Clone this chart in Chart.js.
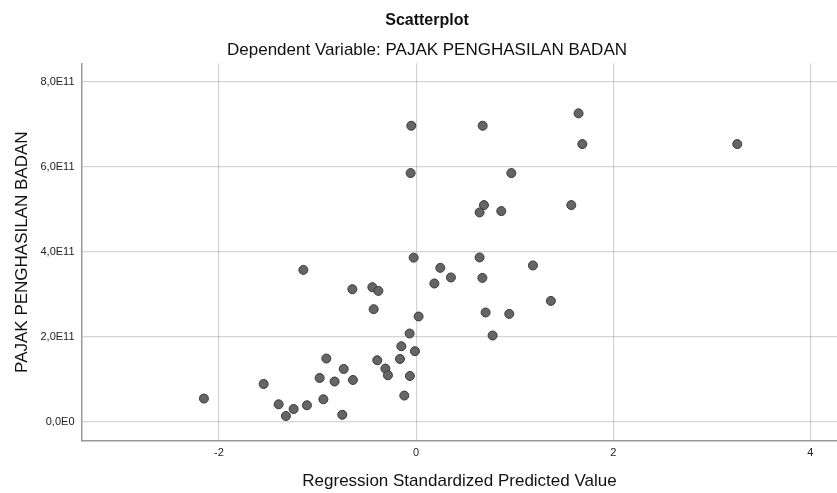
<!DOCTYPE html>
<html>
<head>
<meta charset="utf-8">
<script src="https://cdn.jsdelivr.net/npm/chart.js@4"></script>
<style>
  html, body { margin: 0; padding: 0; background: #ffffff; }
  #wrap { width: 837px; height: 493px; }
</style>
</head>
<body>
<div id="wrap"><canvas id="c" width="837" height="493"></canvas></div>
<script>
const predictedValues = [
  -0.049, 0.675, 1.648, 1.686, 3.258, -0.056, 0.966, 0.688, 0.644, 0.864,
  1.574, -0.025, 0.644, -1.144, 0.245, 1.185, -0.647, -0.444, -0.383, 0.185,
  0.353, 0.672, 1.367, -0.431, 0.025, 0.705, 0.945, -0.066, 0.776, -0.150,
  -0.012, -0.394, -0.164, -0.735, -0.312, -0.286, -0.641, -0.063, -0.120, -0.749,
  -0.911, -0.979, -0.827, -1.547, -2.153, -1.395, -1.243, -1.108, -0.941, -1.321
];
const pajakValues = [
  6.965e11, 6.965e11, 7.256e11, 6.534e11, 6.534e11, 5.852e11, 5.852e11, 5.099e11, 4.927e11, 4.958e11,
  5.099e11, 3.864e11, 3.868e11, 3.576e11, 3.624e11, 3.680e11, 3.122e11, 3.169e11, 3.082e11, 3.256e11,
  3.398e11, 3.388e11, 2.847e11, 2.652e11, 2.480e11, 2.574e11, 2.541e11, 2.080e11, 2.033e11, 1.781e11,
  1.664e11, 1.452e11, 1.482e11, 1.247e11, 1.256e11, 1.099e11, 0.988e11, 1.082e11, 0.621e11, 0.169e11,
  1.492e11, 1.035e11, 0.951e11, 0.894e11, 0.551e11, 0.416e11, 0.306e11, 0.393e11, 0.534e11, 0.141e11
];
const xTickValues = [-2, 0, 2, 4];
const yTickValues = [0, 2e11, 4e11, 6e11, 8e11];
const titleText = 'Scatterplot';
const subtitleText = 'Dependent Variable: PAJAK PENGHASILAN BADAN';
const xAxisTitle = 'Regression Standardized Predicted Value';
const yAxisTitle = 'PAJAK PENGHASILAN BADAN';

const points = predictedValues.map((x, i) => ({ x: x, y: pajakValues[i] }));

function fmtY(v) {
  if (Math.abs(v) < 1) return '0,0E0';
  const m = v / 1e11;
  return m.toFixed(1).replace('.', ',') + 'E11';
}

const FONT = "'Liberation Sans', Arial, sans-serif";
const gridColor = 'rgba(0,0,0,0.17)';
const LEFT_PAD = 17;

new Chart(document.getElementById('c'), {
  type: 'scatter',
  data: {
    datasets: [{
      data: points,
      pointRadius: 4.5,
      pointBackgroundColor: '#656565',
      pointBorderColor: '#3a3a3a',
      pointBorderWidth: 1,
      pointHoverRadius: 4.5
    }]
  },
  options: {
    responsive: false,
    animation: false,
    layout: { autoPadding: false, padding: { left: LEFT_PAD, right: 0, top: 0, bottom: 0 } },
    plugins: {
      legend: { display: false },
      tooltip: { enabled: false },
      title: {
        display: true,
        text: titleText,
        color: '#111',
        font: { family: FONT, size: 16, weight: 'bold', lineHeight: 1.2 },
        padding: { top: 10.9, bottom: 9.7 }
      },
      subtitle: {
        display: true,
        text: subtitleText,
        color: '#111',
        font: { family: FONT, size: 17, weight: 'normal', lineHeight: 1.2 },
        padding: { top: 0, bottom: 3.1 }
      }
    },
    scales: {
      x: {
        type: 'linear',
        min: -3.39,
        max: 4.27,
        afterFit: (s) => { s.height = 52; s.paddingRight = 0; s.paddingLeft = 0; },
        afterBuildTicks: (s) => { s.ticks = xTickValues.map(v => ({ value: v })); },
        ticks: {
          color: '#222',
          padding: 5,
          maxRotation: 0,
          font: { family: FONT, size: 11 },
          callback: (v) => String(v)
        },
        grid: { color: gridColor, lineWidth: 1.2, drawTicks: false },
        border: { color: '#999', width: 1.5 },
        title: {
          display: true,
          text: xAxisTitle,
          color: '#111',
          font: { family: FONT, size: 17, lineHeight: 1.2 },
          padding: { top: 2, bottom: 1.1 }
        }
      },
      y: {
        type: 'linear',
        min: -0.447e11,
        max: 8.433e11,
        afterFit: (s) => { s.width = 82 - LEFT_PAD; s.paddingTop = 0; s.paddingBottom = 0; },
        afterBuildTicks: (s) => { s.ticks = yTickValues.map(v => ({ value: v })); },
        ticks: {
          color: '#222',
          padding: 7.5,
          font: { family: FONT, size: 11 },
          callback: (v) => fmtY(v)
        },
        grid: { color: gridColor, lineWidth: 1.2, drawTicks: false },
        border: { color: '#999', width: 1.5 },
        title: {
          display: true,
          text: yAxisTitle,
          color: '#111',
          font: { family: FONT, size: 17, lineHeight: 1.2 },
          padding: { top: -5.2, bottom: 0 }
        }
      }
    }
  }
});
</script>
</body>
</html>
